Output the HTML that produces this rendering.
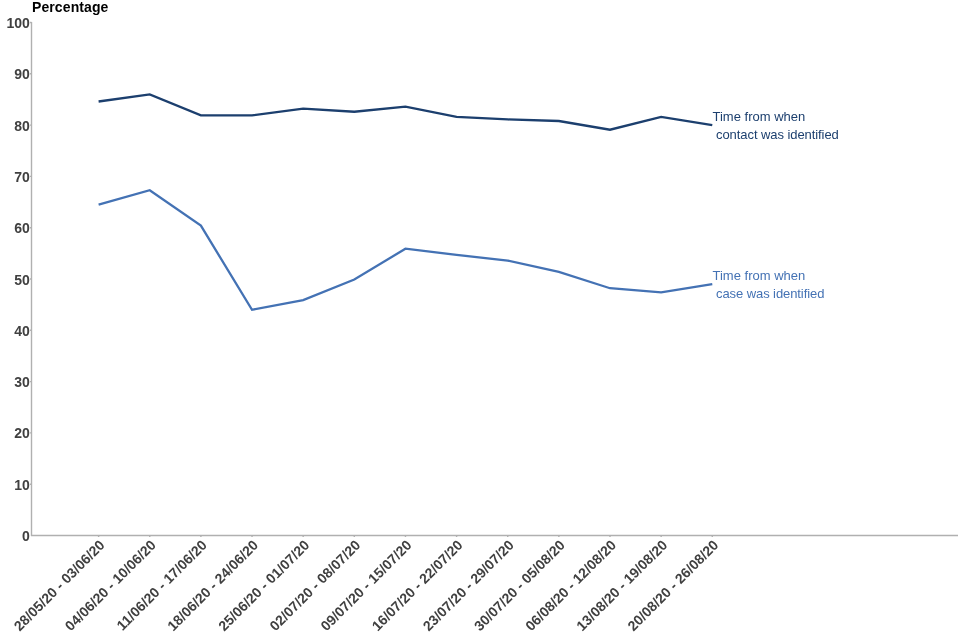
<!DOCTYPE html>
<html><head><meta charset="utf-8"><style>
html,body{margin:0;padding:0;background:#fff;width:960px;height:640px;overflow:hidden}
svg{display:block;will-change:transform}
text{font-family:"Liberation Sans",sans-serif}
</style></head><body>
<svg width="960" height="640" viewBox="0 0 960 640">
<text x="32" y="12" font-size="14" font-weight="bold" fill="#000" letter-spacing="0.1">Percentage</text>
<g font-size="14" font-weight="bold" fill="#404040"><text x="29.8" y="541.00" text-anchor="end">0</text><text x="29.8" y="489.70" text-anchor="end">10</text><text x="29.8" y="438.40" text-anchor="end">20</text><text x="29.8" y="387.10" text-anchor="end">30</text><text x="29.8" y="335.80" text-anchor="end">40</text><text x="29.8" y="284.50" text-anchor="end">50</text><text x="29.8" y="233.20" text-anchor="end">60</text><text x="29.8" y="181.90" text-anchor="end">70</text><text x="29.8" y="130.60" text-anchor="end">80</text><text x="29.8" y="79.30" text-anchor="end">90</text><text x="29.8" y="28.00" text-anchor="end">100</text></g>
<g stroke="#b0b0b0" stroke-width="1.4" fill="none">
<line x1="31.5" y1="22" x2="31.5" y2="536"/>
<line x1="31" y1="535.5" x2="958" y2="535.5"/>
<line x1="98.60" y1="535.5" x2="98.60" y2="537" /><line x1="149.74" y1="535.5" x2="149.74" y2="537" /><line x1="200.88" y1="535.5" x2="200.88" y2="537" /><line x1="252.02" y1="535.5" x2="252.02" y2="537" /><line x1="303.16" y1="535.5" x2="303.16" y2="537" /><line x1="354.30" y1="535.5" x2="354.30" y2="537" /><line x1="405.44" y1="535.5" x2="405.44" y2="537" /><line x1="456.58" y1="535.5" x2="456.58" y2="537" /><line x1="507.72" y1="535.5" x2="507.72" y2="537" /><line x1="558.86" y1="535.5" x2="558.86" y2="537" /><line x1="610.00" y1="535.5" x2="610.00" y2="537" /><line x1="661.14" y1="535.5" x2="661.14" y2="537" /><line x1="712.28" y1="535.5" x2="712.28" y2="537" /><line x1="30" y1="484.20" x2="31.5" y2="484.20" /><line x1="30" y1="432.90" x2="31.5" y2="432.90" /><line x1="30" y1="381.60" x2="31.5" y2="381.60" /><line x1="30" y1="330.30" x2="31.5" y2="330.30" /><line x1="30" y1="279.00" x2="31.5" y2="279.00" /><line x1="30" y1="227.70" x2="31.5" y2="227.70" /><line x1="30" y1="176.40" x2="31.5" y2="176.40" /><line x1="30" y1="125.10" x2="31.5" y2="125.10" /><line x1="30" y1="73.80" x2="31.5" y2="73.80" /><line x1="30" y1="22.50" x2="31.5" y2="22.50" />
</g>
<polyline points="98.60,101.50 149.74,94.32 200.88,115.35 252.02,115.35 303.16,108.68 354.30,111.76 405.44,106.63 456.58,116.89 507.72,119.46 558.86,121.00 610.00,129.72 661.14,116.89 712.28,125.10" fill="none" stroke="#1c3f6e" stroke-width="2.3" stroke-linejoin="miter"/>
<polyline points="98.60,204.62 149.74,190.25 200.88,225.65 252.02,309.78 303.16,300.03 354.30,279.51 405.44,248.73 456.58,254.89 507.72,260.53 558.86,271.82 610.00,288.23 661.14,292.34 712.28,284.13" fill="none" stroke="#4472b4" stroke-width="2.3" stroke-linejoin="miter"/>
<g font-size="13" fill="#1c3f6e"><text x="712.5" y="120.5">Time from when</text><text x="716" y="138.8" letter-spacing="-0.07">contact was identified</text></g>
<g font-size="13" fill="#4472b4"><text x="712.5" y="279.5">Time from when</text><text x="716" y="297.8" letter-spacing="-0.08">case was identified</text></g>
<g font-size="14" font-weight="bold" fill="#404040"><text transform="translate(105.60,546) rotate(-45)" text-anchor="end">28/05/20 - 03/06/20</text><text transform="translate(156.74,546) rotate(-45)" text-anchor="end">04/06/20 - 10/06/20</text><text transform="translate(207.88,546) rotate(-45)" text-anchor="end">11/06/20 - 17/06/20</text><text transform="translate(259.02,546) rotate(-45)" text-anchor="end">18/06/20 - 24/06/20</text><text transform="translate(310.16,546) rotate(-45)" text-anchor="end">25/06/20 - 01/07/20</text><text transform="translate(361.30,546) rotate(-45)" text-anchor="end">02/07/20 - 08/07/20</text><text transform="translate(412.44,546) rotate(-45)" text-anchor="end">09/07/20 - 15/07/20</text><text transform="translate(463.58,546) rotate(-45)" text-anchor="end">16/07/20 - 22/07/20</text><text transform="translate(514.72,546) rotate(-45)" text-anchor="end">23/07/20 - 29/07/20</text><text transform="translate(565.86,546) rotate(-45)" text-anchor="end">30/07/20 - 05/08/20</text><text transform="translate(617.00,546) rotate(-45)" text-anchor="end">06/08/20 - 12/08/20</text><text transform="translate(668.14,546) rotate(-45)" text-anchor="end">13/08/20 - 19/08/20</text><text transform="translate(719.28,546) rotate(-45)" text-anchor="end">20/08/20 - 26/08/20</text></g>
</svg>
</body></html>
